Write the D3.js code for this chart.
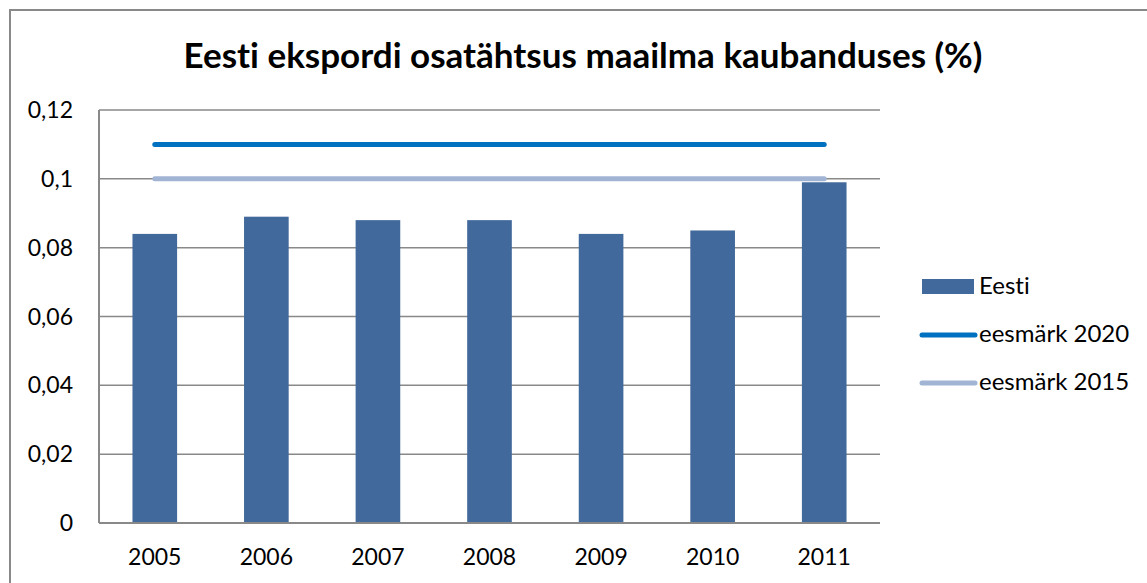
<!DOCTYPE html>
<html>
<head>
<meta charset="utf-8">
<script src="https://cdn.jsdelivr.net/npm/d3@7"></script>
<style>
  body { margin: 0; background: #fff; }
  text { font-family: Lato, "Open Sans", sans-serif; font-variant-ligatures: none; }
</style>
</head>
<body>
<svg width="1147" height="583"></svg>
<script>
const years = ["2005", "2006", "2007", "2008", "2009", "2010", "2011"];
const eesti = [0.084, 0.089, 0.088, 0.088, 0.084, 0.085, 0.099];
const target2020 = [0.11, 0.11, 0.11, 0.11, 0.11, 0.11, 0.11];
const target2015 = [0.10, 0.10, 0.10, 0.10, 0.10, 0.10, 0.10];
const yTicks = [0, 0.02, 0.04, 0.06, 0.08, 0.1, 0.12];
const legendItems = [
  { name: "Eesti", kind: "bar", color: "#41699b" },
  { name: "eesmärk 2020", kind: "line", color: "#0070c0" },
  { name: "eesmärk 2015", kind: "line", color: "#a2b4d4" }
];

const svg = d3.select("svg");
const plot = { left: 99, right: 880, top: 110, bottom: 523 };

// outer chart frame
svg.append("rect")
  .attr("x", 10).attr("y", 10)
  .attr("width", 1150).attr("height", 600)
  .attr("fill", "none")
  .attr("stroke", "#898989")
  .attr("stroke-width", 2);

svg.append("text")
  .attr("x", 583).attr("y", 68)
  .attr("text-anchor", "middle")
  .style("font-size", "35px")
  .style("font-weight", "bold")
  .text("Eesti ekspordi osatähtsus maailma kaubanduses (%)");

const xc = d3.scaleBand().domain(years).range([plot.left, plot.right]);
const y = d3.scaleLinear().domain([0, 0.12]).range([plot.bottom, plot.top]);

const fmt = d => String(d).replace(".", ",");

// gridlines
svg.append("g")
  .selectAll("line")
  .data(yTicks.slice(1))
  .join("line")
  .attr("x1", plot.left).attr("x2", plot.right)
  .attr("y1", d => y(d)).attr("y2", d => y(d))
  .attr("stroke", "#898989")
  .attr("stroke-width", 1.5);

// y labels
svg.append("g")
  .selectAll("text")
  .data(yTicks)
  .join("text")
  .attr("x", 73)
  .attr("y", d => y(d) + 8)
  .attr("text-anchor", "end")
  .style("font-size", "23px")
  .text(fmt);

// bars
svg.append("g")
  .selectAll("rect")
  .data(eesti)
  .join("rect")
  .attr("x", (d, i) => xc(years[i]) + xc.bandwidth() * 0.3)
  .attr("width", xc.bandwidth() * 0.4)
  .attr("y", d => y(d))
  .attr("height", d => plot.bottom - y(d))
  .attr("fill", "#41699b");

// target lines
const line = d3.line()
  .x((d, i) => xc(years[i]) + xc.bandwidth() / 2)
  .y(d => y(d));

svg.append("path")
  .datum(target2015)
  .attr("d", line)
  .attr("fill", "none")
  .attr("stroke", "#a2b4d4")
  .attr("stroke-width", 5)
  .attr("stroke-linecap", "round");

svg.append("path")
  .datum(target2020)
  .attr("d", line)
  .attr("fill", "none")
  .attr("stroke", "#0070c0")
  .attr("stroke-width", 5)
  .attr("stroke-linecap", "round");

// axes lines
svg.append("line")
  .attr("x1", plot.left).attr("x2", plot.left)
  .attr("y1", plot.top).attr("y2", plot.bottom)
  .attr("stroke", "#898989").attr("stroke-width", 2);
svg.append("line")
  .attr("x1", plot.left).attr("x2", plot.right)
  .attr("y1", plot.bottom).attr("y2", plot.bottom)
  .attr("stroke", "#898989").attr("stroke-width", 2);

// x labels
svg.append("g")
  .selectAll("text")
  .data(years)
  .join("text")
  .attr("x", d => xc(d) + xc.bandwidth() / 2)
  .attr("y", 565)
  .attr("text-anchor", "middle")
  .style("font-size", "23px")
  .text(d => d);

// legend
const legend = svg.append("g")
  .selectAll("g")
  .data(legendItems)
  .join("g")
  .attr("transform", (d, i) => `translate(920, ${287 + i * 48})`);

legend.filter(d => d.kind === "bar")
  .append("rect")
  .attr("x", 2).attr("y", -8)
  .attr("width", 52).attr("height", 15)
  .attr("fill", d => d.color);

legend.filter(d => d.kind === "line")
  .append("line")
  .attr("x1", 2).attr("x2", 55)
  .attr("y1", 0).attr("y2", 0)
  .attr("stroke", d => d.color)
  .attr("stroke-width", 5)
  .attr("stroke-linecap", "round");

legend.append("text")
  .attr("x", 59)
  .attr("y", 7)
  .style("font-size", "24px")
  .text(d => d.name);
</script>
</body>
</html>
